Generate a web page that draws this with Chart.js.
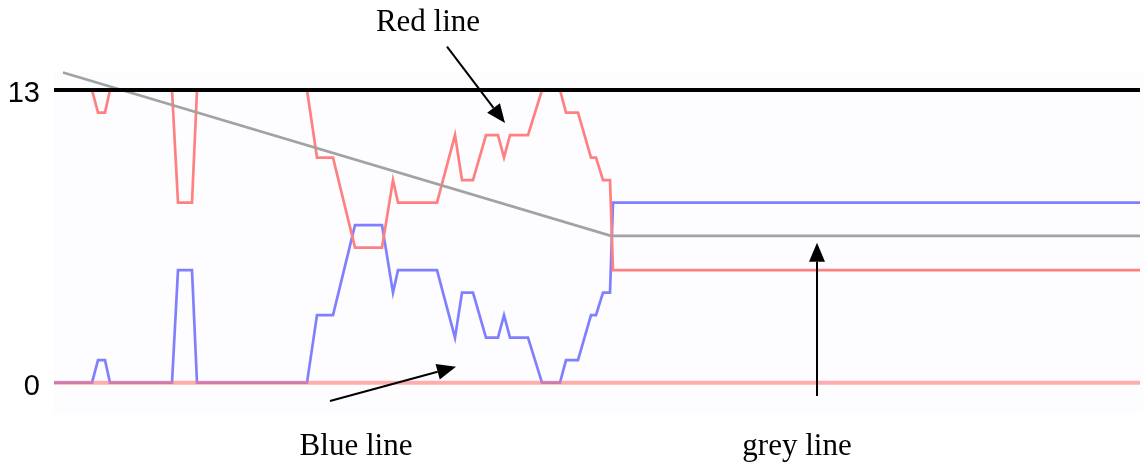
<!DOCTYPE html>
<html>
<head>
<meta charset="utf-8">
<script src="https://cdn.jsdelivr.net/npm/chart.js@4/dist/chart.umd.min.js"></script>
<style>
  html, body { margin: 0; padding: 0; background: #fff; }
  #wrap { width: 1143px; height: 465px; }
</style>
</head>
<body>
<div id="wrap"><canvas id="chart" width="1143" height="465"></canvas></div>
<script>
// sample positions shared by the red and blue series
const steps = [0, 38, 44, 51, 56, 118, 124, 138, 143, 253, 263, 279, 301, 328, 339, 344,
  383, 401, 408, 419, 432, 444, 450, 456, 474, 488, 506, 512, 524, 537, 542, 549, 556, 559, 1086];
const blueValues = [0, 0, 1, 1, 0, 0, 5, 5, 0, 0, 3, 3, 7, 7, 4, 5,
  5, 2, 4, 4, 2, 2, 3, 2, 2, 0, 0, 1, 1, 3, 3, 4, 4, 8, 8];
const redValues = [13, 13, 12, 12, 13, 13, 8, 8, 13, 13, 10, 10, 6, 6, 9, 8,
  8, 11, 9, 9, 11, 11, 10, 11, 11, 13, 13, 12, 12, 10, 10, 9, 9, 5, 5];

// grey line: falls steadily, then levels off
const greySteps = [9, 557, 1086];
const greyValues = [13.78, 6.52, 6.52];

// reference levels
const topLevel = 13;
const bottomLevel = 0;
const tickValues = [0, 13];

const toPoints = (xs, ys) => xs.map((x, i) => ({ x: x, y: ys[i] }));
const flat = (v) => [{ x: 0, y: v }, { x: 1086, y: v }];

// callouts, placed in data units
const notes = [
  { text: "Red line", x: 374, y: 15.6, from: [393, 14.93], to: [451, 11.53] },
  { text: "Blue line", x: 302, y: -3.21, from: [276, -0.81], to: [402, 0.71] },
  { text: "grey line", x: 743, y: -3.21, from: [763, -0.59], to: [763, 6.22] },
];

function drawArrow(ctx, x1, y1, x2, y2) {
  const ang = Math.atan2(y2 - y1, x2 - x1);
  const headLen = 19, headHalf = 8;
  const bx = x2 - headLen * Math.cos(ang);
  const by = y2 - headLen * Math.sin(ang);
  ctx.beginPath();
  ctx.moveTo(x1, y1);
  ctx.lineTo(bx, by);
  ctx.stroke();
  ctx.beginPath();
  ctx.moveTo(x2, y2);
  ctx.lineTo(bx + headHalf * Math.sin(ang), by - headHalf * Math.cos(ang));
  ctx.lineTo(bx - headHalf * Math.sin(ang), by + headHalf * Math.cos(ang));
  ctx.closePath();
  ctx.fill();
}

const plotBackground = {
  id: "plotBackground",
  beforeDatasetsDraw(chart) {
    const { ctx, chartArea: a } = chart;
    ctx.save();
    ctx.fillStyle = "#fdfdff";
    ctx.fillRect(a.left, a.top, a.right - a.left + 3, a.bottom - a.top);
    ctx.restore();
  },
};

const callouts = {
  id: "callouts",
  afterDraw(chart) {
    const { ctx } = chart;
    const xs = chart.scales.x, ys = chart.scales.y;
    ctx.save();
    ctx.strokeStyle = "#000";
    ctx.fillStyle = "#000";
    ctx.lineWidth = 2;
    ctx.font = "31px 'Liberation Serif'";
    ctx.textAlign = "center";
    ctx.textBaseline = "alphabetic";
    notes.forEach((n) => {
      drawArrow(ctx,
        xs.getPixelForValue(n.from[0]), ys.getPixelForValue(n.from[1]),
        xs.getPixelForValue(n.to[0]), ys.getPixelForValue(n.to[1]));
      ctx.fillText(n.text, xs.getPixelForValue(n.x), ys.getPixelForValue(n.y));
    });
    ctx.restore();
  },
};

new Chart(document.getElementById("chart"), {
  type: "line",
  data: {
    datasets: [
      { label: "13", data: flat(topLevel), borderColor: "#000", borderWidth: 4 },
      { label: "0", data: flat(bottomLevel), borderColor: "rgba(255,120,120,0.6)", borderWidth: 4 },
      { label: "grey", data: toPoints(greySteps, greyValues), borderColor: "#a2a2a2", borderWidth: 2.7 },
      { label: "red", data: toPoints(steps, redValues), borderColor: "#ff8080", borderWidth: 2.7 },
      { label: "blue", data: toPoints(steps, blueValues), borderColor: "#8080ff", borderWidth: 2.7 },
    ],
  },
  options: {
    responsive: false,
    animation: false,
    devicePixelRatio: 1,
    layout: { padding: { top: 72, bottom: 51, right: 3, left: 0 } },
    elements: { point: { radius: 0 }, line: { tension: 0, fill: false } },
    datasets: { line: { clip: false } },
    plugins: { legend: { display: false }, tooltip: { enabled: false } },
    scales: {
      x: { type: "linear", min: 0, max: 1086, display: false },
      y: {
        min: -1.39,
        max: 13.8,
        grid: { display: false, drawTicks: false },
        border: { display: false },
        afterBuildTicks: (axis) => {
          axis.ticks = tickValues.map((v) => ({ value: v }));
        },
        afterFit: (axis) => {
          axis.width = 54;
        },
        ticks: {
          padding: 14,
          labelOffset: 4,
          color: "#000",
          font: { family: "'Liberation Sans', Arial", size: 29 },
        },
      },
    },
  },
  plugins: [plotBackground, callouts],
});
</script>
</body>
</html>
